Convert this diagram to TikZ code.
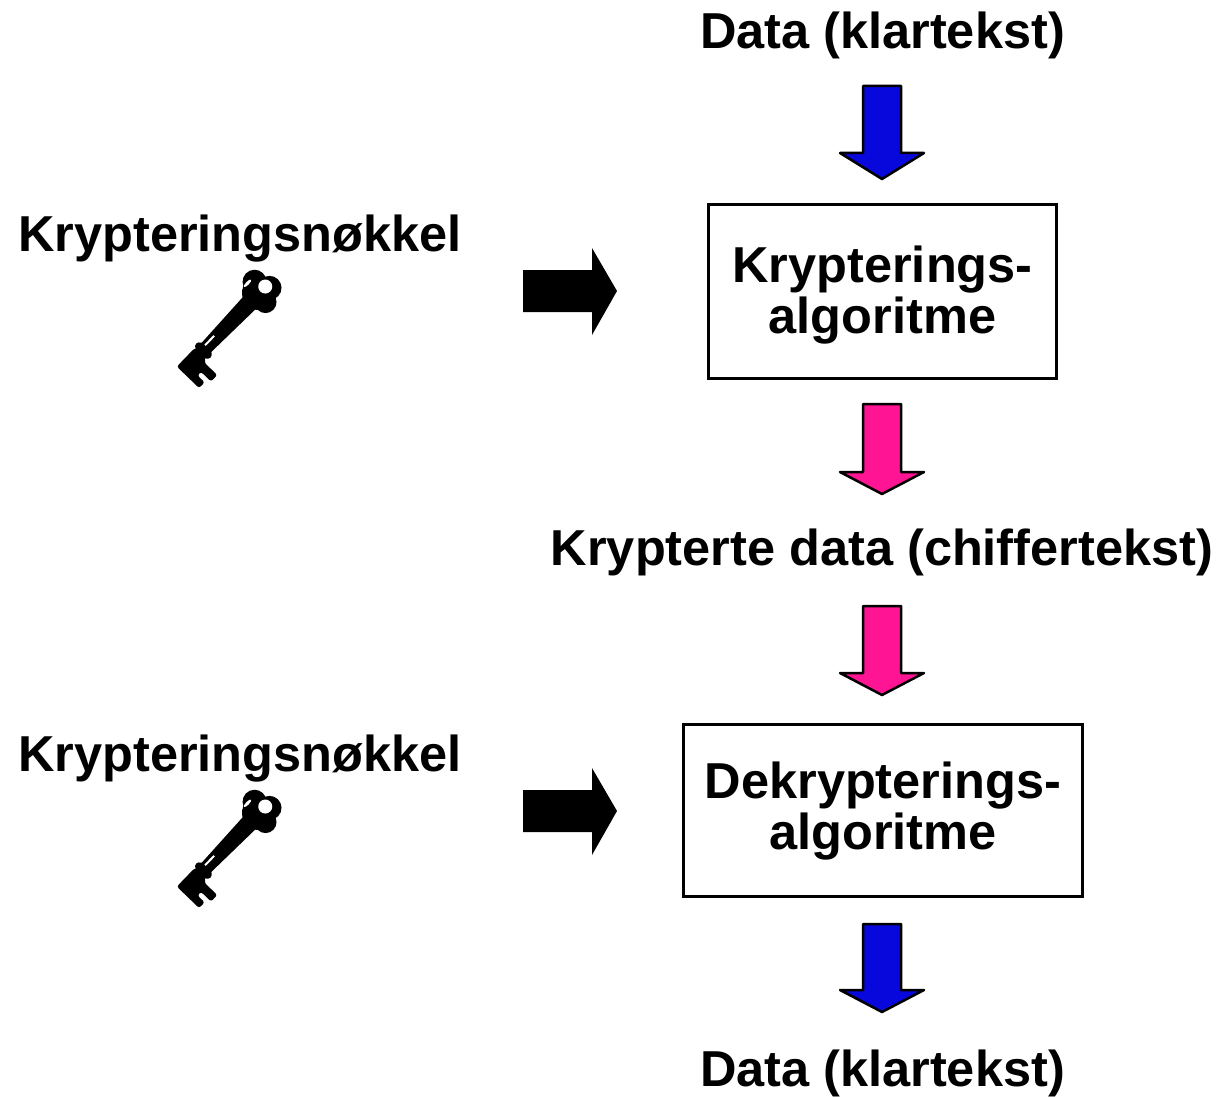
\documentclass[tikz,border=0pt]{standalone}
\usepackage{fontspec}
\setmainfont{Liberation Sans}
\definecolor{arrblue}{RGB}{8,8,220}
\definecolor{arrpink}{RGB}{255,20,147}
\tikzset{
  lbl/.style={font=\bfseries\fontsize{50.5}{46}\selectfont, inner sep=0pt, anchor=base},
  algbox/.style={draw, line width=3pt, inner sep=0pt},
  downblk/.style={draw=black, line width=2.5pt, line join=round},
  rightblk/.style={fill=black},
  keypic/.pic={
    \fill (0,0) circle (17);
    \fill (-5,11) circle (12);
    \fill (-11,-4) circle (12);
    \fill (2,-11) circle (11);
    \fill (8,-9) -- (8,9) -- (80,6.5) -- (80,-6.5) -- cycle;
    \fill (80,0) ellipse [x radius=6, y radius=10];
    \fill (79,-6) rectangle (86,6);
    \fill[rounded corners=2.5] (84,8) -- (110,8) -- (110,-23) -- (102,-23) -- (102,-13) -- (97,-13) -- (97,-27) -- (88,-27) -- (88,-9) -- (84,-7) -- cycle;
    \fill[white] (-9,0) circle (7);
    \fill[white] (62,1.5) rectangle (75,3.5);
    \fill[white] (1,15) ellipse [x radius=5, y radius=1.6];
  }
}
\newcommand\blkdown[5]{%
  \filldraw[downblk, fill=#5] (#1-19,#2) -- (#1+19,#2) -- (#1+19,#3) -- (#1+42,#3) -- (#1,#4) -- (#1-42,#3) -- (#1-19,#3) -- cycle;}
\newcommand\blkright[1]{%
  \fill[rightblk] (523,#1-21) -- (592,#1-21) -- (592,#1-43) -- (617,#1) -- (592,#1+44) -- (592,#1+21) -- (523,#1+21) -- cycle;}
\begin{document}
\begin{tikzpicture}[x=1pt,y=-1pt]
\useasboundingbox (0,0) rectangle (1221,1097);
% texts
\node[lbl] (dtop) at (882.5,49) {Data (klartekst)};
\node[lbl] (k1) at (240,251) {Krypteringsnøkkel};
\node[lbl] (cipher) at (882,565) {Krypterte data (chiffertekst)};
\node[lbl] (k2) at (240,771) {Krypteringsnøkkel};
\node[lbl] (dbot) at (882.5,1086) {Data (klartekst)};
% boxes
\node[algbox, minimum width=348pt, minimum height=174pt] (enc) at (882.5,291.5) {};
\node[lbl] (enc1) at (882.5,282) {Krypterings-};
\node[lbl] (enc2) at (882.5,333) {algoritme};
\node[algbox, minimum width=399pt, minimum height=172pt] (dec) at (883,810.5) {};
\node[lbl] (dec1) at (883,798) {Dekrypterings-};
\node[lbl] (dec2) at (883,849) {algoritme};
% block arrows
\blkdown{882}{86}{153}{179}{arrblue}
\blkdown{882}{404}{472}{494}{arrpink}
\blkdown{882}{606}{673}{695}{arrpink}
\blkdown{882}{924}{990}{1012}{arrblue}
\blkright{291}
\blkright{811}
% keys
\pic[rotate=226] at (259,293) {keypic};
\pic[rotate=226] at (259,813) {keypic};
\end{tikzpicture}
\end{document}
